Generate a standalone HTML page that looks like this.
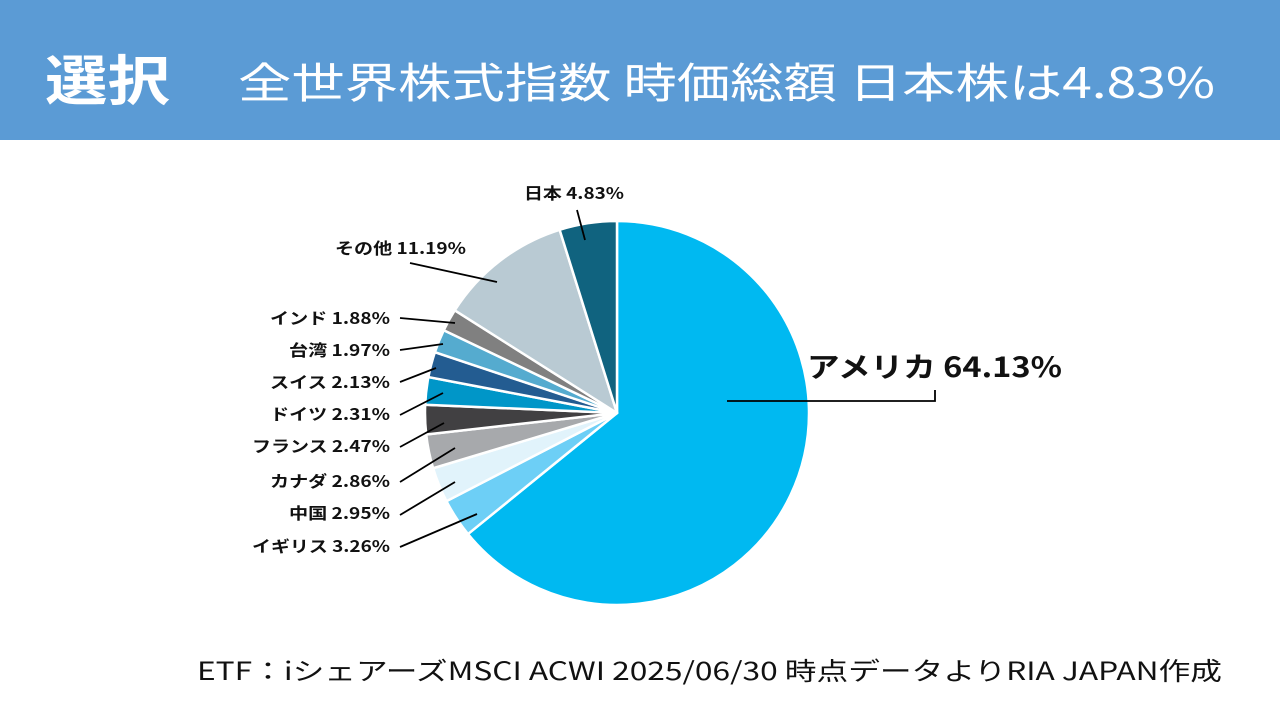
<!DOCTYPE html>
<html><head><meta charset="utf-8"><style>
body{margin:0;width:1280px;height:720px;background:#fff;overflow:hidden}
.hd{position:absolute;left:0;top:0;width:1280px;height:140px;background:#5B9BD5}
</style></head><body>
<div class="hd"></div>
<svg width="1280" height="720" style="position:absolute;left:0;top:0" font-family="Noto Sans CJK JP, sans-serif">
<text x="45" y="100" font-size="54" font-weight="bold" fill="#fff" textLength="125" lengthAdjust="spacingAndGlyphs">選択</text>
<text x="238" y="98" font-size="42" fill="#fff" textLength="977" lengthAdjust="spacingAndGlyphs">全世界株式指数 時価総額 日本株は4.83%</text>
<g id="pie"></g>
<g stroke="#000" stroke-width="1.8">
<line x1="577" y1="210" x2="585" y2="240"/>
<line x1="410" y1="263" x2="497" y2="282"/>
<line x1="400" y1="318" x2="455" y2="323"/>
<line x1="400" y1="350" x2="443" y2="344"/>
<line x1="400" y1="382" x2="436" y2="368"/>
<line x1="400" y1="415" x2="443" y2="393"/>
<line x1="400" y1="447" x2="444" y2="423"/>
<line x1="400" y1="482" x2="455" y2="448"/>
<line x1="400" y1="515" x2="455" y2="482"/>
<line x1="400" y1="547" x2="477" y2="514"/>
<polyline fill="none" points="727,401 935,401 935,390"/>
</g>
<g font-size="16" font-weight="bold" fill="#111">
<text x="524" y="199" textLength="100" lengthAdjust="spacingAndGlyphs">日本 4.83%</text>
<text x="335" y="254" textLength="131" lengthAdjust="spacingAndGlyphs">その他 11.19%</text>
<text x="270" y="324" textLength="120" lengthAdjust="spacingAndGlyphs">インド 1.88%</text>
<text x="289" y="356" textLength="101" lengthAdjust="spacingAndGlyphs">台湾 1.97%</text>
<text x="270" y="388" textLength="120" lengthAdjust="spacingAndGlyphs">スイス 2.13%</text>
<text x="270" y="420" textLength="120" lengthAdjust="spacingAndGlyphs">ドイツ 2.31%</text>
<text x="252" y="452" textLength="138" lengthAdjust="spacingAndGlyphs">フランス 2.47%</text>
<text x="270" y="487" textLength="120" lengthAdjust="spacingAndGlyphs">カナダ 2.86%</text>
<text x="289" y="519" textLength="101" lengthAdjust="spacingAndGlyphs">中国 2.95%</text>
<text x="252" y="552" textLength="138" lengthAdjust="spacingAndGlyphs">イギリス 3.26%</text>
</g>
<text x="807" y="377" font-size="28" font-weight="bold" fill="#111" textLength="255" lengthAdjust="spacingAndGlyphs">アメリカ 64.13%</text>
<text x="197" y="680" font-size="25" fill="#111" textLength="1025" lengthAdjust="spacingAndGlyphs">ETF：iシェアーズMSCI ACWI 2025/06/30 時点データよりRIA JAPAN作成</text>
</svg>
<script>
var d=[[64.13,"#00B9F1"],[3.26,"#6DCFF6"],[2.95,"#E1F3FB"],[2.86,"#A7A9AC"],[2.47,"#414042"],[2.31,"#0096C8"],[2.13,"#235C91"],[1.97,"#55ABCF"],[1.88,"#808080"],[11.19,"#B9CAD3"],[4.83,"#10637F"]];
var cx=617,cy=413,r=192,tot=0;d.forEach(function(e){tot+=e[0]});
var a=0,h="";
d.forEach(function(e){var a1=a+e[0]/tot*2*Math.PI;
var x0=cx+r*Math.sin(a),y0=cy-r*Math.cos(a),x1=cx+r*Math.sin(a1),y1=cy-r*Math.cos(a1);
h+='<path d="M'+cx+','+cy+' L'+x0+','+y0+' A'+r+','+r+' 0 '+((a1-a)>Math.PI?1:0)+' 1 '+x1+','+y1+' Z" fill="'+e[1]+'" stroke="#fff" stroke-width="2.5" stroke-linejoin="round"/>';a=a1;});
document.getElementById("pie").innerHTML=h;
</script>
</body></html>
